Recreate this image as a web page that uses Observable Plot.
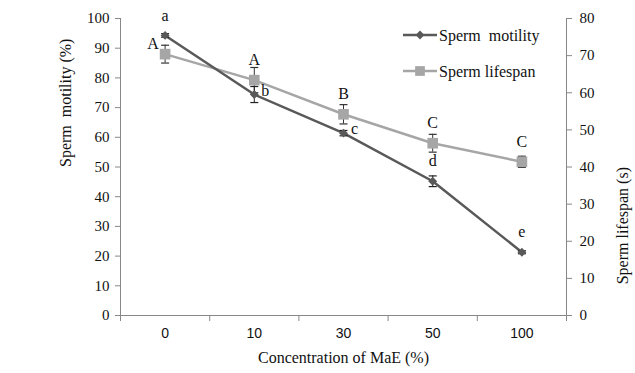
<!DOCTYPE html>
<html>
<head>
<meta charset="utf-8">
<script src="https://cdn.jsdelivr.net/npm/d3@7"></script>
<script src="https://cdn.jsdelivr.net/npm/@observablehq/plot@0.6"></script>
<style>
  html, body { margin: 0; padding: 0; background: #fff; }
  #wrap { position: relative; width: 635px; height: 373px; }
  #legend { position: absolute; left: 0; top: 0; }
  #wrap svg text { font-family: "Liberation Serif", "Times New Roman", serif; }
  #wrap svg text.sans, #wrap svg g.sans text { font-family: "Liberation Sans", Arial, sans-serif; }
</style>
</head>
<body>
<div id="wrap"></div>
<script>
// ---- data ----
const concentrations = ["0", "10", "30", "50", "100"];
const motility = [94.3, 74.4, 61.4, 45.2, 21.3];
const motilityErr = [0.6, 2.7, 0.9, 1.8, 0.5];
const lifespan = [70.4, 63.4, 54.2, 46.4, 41.4];
const lifespanErr = [2.4, 3.4, 2.6, 2.4, 1.5];
const motilityLetters = ["a", "b", "c", "d", "e"];
const lifespanLetters = ["A", "A", "B", "C", "C"];
const motilityTicks = [0, 10, 20, 30, 40, 50, 60, 70, 80, 90, 100];
const lifespanTicks = [0, 10, 20, 30, 40, 50, 60, 70, 80];
const seriesNames = ["Sperm  motility", "Sperm lifespan"];

// ---- placement / style (kept apart from the data) ----
const motilityLetterSide = ["above", "right", "right", "above", "above"];
const lifespanLetterSide = ["left", "above", "above", "above", "above"];
const darkColor = "#595959";
const lightColor = "#a6a6a6";
const axisColor = "#888888";
const serif = "Liberation Serif, Times New Roman, serif";

const lifeScale = motilityTicks[motilityTicks.length - 1] / lifespanTicks[lifespanTicks.length - 1];

const rows = concentrations.map((c, i) => ({
  i, c,
  mot: motility[i], motErr: motilityErr[i], motLetter: motilityLetters[i], motSide: motilityLetterSide[i],
  life: lifespan[i] * lifeScale, lifeErr: lifespanErr[i] * lifeScale,
  lifeLetter: lifespanLetters[i], lifeSide: lifespanLetterSide[i]
}));

const capSymbol = {
  draw(context, size) {
    const w = 4;
    context.moveTo(-w, 0);
    context.lineTo(w, 0);
  }
};

const boundaries = d3.range(-0.5, concentrations.length, 1);
const offset = (side, kind) => {
  if (side === "above") return kind === "dx" ? 0 : -20;
  if (side === "right") return kind === "dx" ? 11 : -4;
  if (side === "left") return kind === "dx" ? -12 : -10;
  return 0;
};

const plot = Plot.plot({
  width: 635,
  height: 373,
  marginLeft: 120,
  marginRight: 69,
  marginTop: 18,
  marginBottom: 58,
  style: { background: "#fff", color: "#111", overflow: "visible", fontFamily: serif, fontSize: "15px" },
  x: { type: "linear", domain: [-0.5, concentrations.length - 0.5], axis: null, label: null },
  y: { domain: [0, 100], axis: null, label: null },
  marks: [
    // axis lines
    Plot.ruleY([0], { stroke: axisColor, strokeWidth: 1 }),
    Plot.ruleX([boundaries[0], boundaries[boundaries.length - 1]], { stroke: axisColor, strokeWidth: 1 }),
    // x boundary ticks
    Plot.axisX(boundaries, { tickSize: 6, tickFormat: () => "", stroke: axisColor, label: null }),
    // x category labels
    Plot.axisX(d3.range(concentrations.length), {
      tickSize: 0, tickPadding: 13, tickFormat: (i) => concentrations[i],
      fontSize: 14, fill: "#111", label: null, className: "sans"
    }),
    // left y axis
    Plot.axisY(motilityTicks, {
      anchor: "left", tickSize: 5, tickPadding: 6, stroke: axisColor,
      fontSize: 15, fill: "#111", label: null
    }),
    // right y axis (lifespan, converted)
    Plot.axisY(lifespanTicks.map((v) => v * lifeScale), {
      anchor: "right", tickSize: 5, tickPadding: 8, stroke: axisColor,
      tickFormat: (d) => Math.round(d / lifeScale),
      fontSize: 15, fill: "#111", label: null
    }),
    // axis titles
    Plot.text(["Sperm  motility (%)"], { frameAnchor: "left", dx: -55, rotate: -90, fontSize: 16, fill: "#111" }),
    Plot.text(["Sperm lifespan (s)"], { frameAnchor: "right", dx: 56, rotate: -90, fontSize: 16, fill: "#111" }),
    Plot.text(["Concentration of MaE (%)"], { frameAnchor: "bottom", dy: 47, fontSize: 16, fill: "#111" }),

    // lifespan series
    Plot.line(rows, { x: "i", y: "life", stroke: lightColor, strokeWidth: 2.5 }),
    Plot.ruleX(rows, { x: "i", y1: (d) => d.life - d.lifeErr, y2: (d) => d.life + d.lifeErr, stroke: "#333", strokeWidth: 1 }),
    Plot.dot(rows, { x: "i", y: (d) => d.life - d.lifeErr, symbol: capSymbol, stroke: "#333", strokeWidth: 1.2, fill: "none" }),
    Plot.dot(rows, { x: "i", y: (d) => d.life + d.lifeErr, symbol: capSymbol, stroke: "#333", strokeWidth: 1.2, fill: "none" }),
    Plot.dot(rows, { x: "i", y: "life", symbol: "square", r: 6, fill: lightColor, stroke: "none" }),

    // motility series
    Plot.line(rows, { x: "i", y: "mot", stroke: darkColor, strokeWidth: 2.5 }),
    Plot.ruleX(rows, { x: "i", y1: (d) => d.mot - d.motErr, y2: (d) => d.mot + d.motErr, stroke: "#222", strokeWidth: 1 }),
    Plot.dot(rows, { x: "i", y: (d) => d.mot - d.motErr, symbol: capSymbol, stroke: "#222", strokeWidth: 1.2, fill: "none" }),
    Plot.dot(rows, { x: "i", y: (d) => d.mot + d.motErr, symbol: capSymbol, stroke: "#222", strokeWidth: 1.2, fill: "none" }),
    Plot.dot(rows, { x: "i", y: "mot", symbol: "diamond2", r: 4, fill: darkColor, stroke: "none" }),

    // significance letters
    ...["above", "right", "left"].map((side) =>
      Plot.text(rows.filter((d) => d.motSide === side), {
        x: "i", y: "mot", text: "motLetter", dx: offset(side, "dx"), dy: offset(side, "dy"),
        fontSize: 16, fill: "#111"
      })
    ),
    ...["above", "right", "left"].map((side) =>
      Plot.text(rows.filter((d) => d.lifeSide === side), {
        x: "i", y: "life", text: "lifeLetter", dx: offset(side, "dx"), dy: offset(side, "dy"),
        fontSize: 16, fill: "#111"
      })
    )
  ]
});

const wrap = document.getElementById("wrap");
wrap.appendChild(plot);

// legend
const legend = d3.select(wrap).append("svg")
  .attr("id", "legend").attr("width", 635).attr("height", 100);
const items = [
  { name: seriesNames[0], color: darkColor, sym: d3.symbolDiamond2, size: 50, y: 35 },
  { name: seriesNames[1], color: lightColor, sym: d3.symbolSquare, size: 95, y: 71 }
];
const g = legend.selectAll("g").data(items).join("g")
  .attr("transform", (d) => `translate(403,${d.y})`);
g.append("line").attr("x1", 0).attr("x2", 34).attr("stroke", (d) => d.color).attr("stroke-width", 2.5);
g.append("path").attr("d", (d) => d3.symbol(d.sym, d.size)()).attr("transform", "translate(17,0)").attr("fill", (d) => d.color);
g.append("text").attr("x", 36).attr("dy", "0.35em").text((d) => d.name)
  .attr("font-size", 16).attr("fill", "#111")
  .style("white-space", "pre");
</script>
</body>
</html>
